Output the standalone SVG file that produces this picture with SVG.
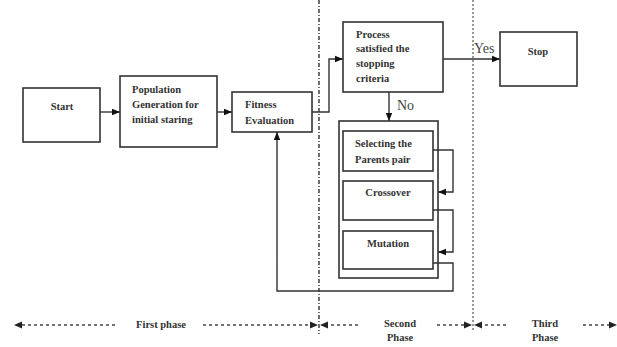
<svg xmlns="http://www.w3.org/2000/svg" width="617" height="347" viewBox="0 0 617 347">
<defs>
<marker id="ah" viewBox="0 0 10 10" refX="10" refY="5" markerWidth="8" markerHeight="8" markerUnits="userSpaceOnUse" orient="auto">
<path d="M0,1 L10,5 L0,9 z" fill="#111"/>
</marker>
<style>
.box{fill:#fff;stroke:#333;stroke-width:1.6}
.t{font-family:"Liberation Serif","Times New Roman",serif;font-size:10.5px;font-weight:bold;fill:#333}
.lbl{font-family:"Liberation Serif","Times New Roman",serif;font-size:14px;fill:#444}
.c{fill:none;stroke:#333;stroke-width:1.4}
.ph{fill:none;stroke:#444;stroke-width:1.3;stroke-dasharray:3,3}
</style>
</defs>
<rect width="617" height="347" fill="#fff"/>
<g id="dividers">
<line x1="319" y1="0" x2="319" y2="334" stroke="#222" stroke-width="1.3" stroke-dasharray="4,2,1,2"/>
<line x1="473" y1="0" x2="473" y2="332" stroke="#999" stroke-width="2" stroke-dasharray="2,2"/>
</g>
<g id="start"><rect class="box" x="23" y="88" width="77" height="54"/><text class="t" x="62" y="110" text-anchor="middle">Start</text></g>
<g id="population"><rect class="box" x="120" y="76" width="97" height="71"/>
<text class="t" x="132" y="93">Population</text><text class="t" x="132" y="108">Generation for</text><text class="t" x="132" y="123">initial staring</text></g>
<g id="fitness"><rect class="box" x="232" y="92" width="80" height="40"/>
<text class="t" x="245" y="108">Fitness</text><text class="t" x="245" y="124">Evaluation</text></g>
<g id="process"><rect class="box" x="343" y="22" width="100" height="70"/>
<text class="t" x="356" y="38">Process</text><text class="t" x="356" y="52">satisfied the</text><text class="t" x="356" y="67">stopping</text><text class="t" x="356" y="82">criteria</text></g>
<g id="stop"><rect class="box" x="500" y="32" width="77" height="54"/><text class="t" x="538" y="55" text-anchor="middle">Stop</text></g>
<g id="group"><rect class="box" x="339" y="121" width="99" height="157"/></g>
<g id="selecting"><rect class="box" x="343" y="131" width="90" height="40"/>
<text class="t" x="355" y="147">Selecting the</text><text class="t" x="355" y="163">Parents pair</text></g>
<g id="crossover"><rect class="box" x="343" y="181" width="90" height="39"/><text class="t" x="388" y="196" text-anchor="middle">Crossover</text></g>
<g id="mutation"><rect class="box" x="343" y="231" width="90" height="38"/><text class="t" x="388" y="247" text-anchor="middle">Mutation</text></g>
<g id="connectors">
<line class="c" x1="100" y1="112" x2="120" y2="112" marker-end="url(#ah)"/>
<line class="c" x1="217" y1="112" x2="232" y2="112" marker-end="url(#ah)"/>
<polyline class="c" points="312,112 329,112 329,59 343,59" marker-end="url(#ah)"/>
<line class="c" x1="443" y1="59" x2="500" y2="59" marker-end="url(#ah)"/>
<line class="c" x1="389" y1="92" x2="389" y2="121" marker-end="url(#ah)"/>
<polyline class="c" points="433,150 453,150 453,192 438,192" marker-end="url(#ah)"/>
<polyline class="c" points="433,210 453,210 453,252 438,252" marker-end="url(#ah)"/>
<polyline class="c" points="433,263 453,263 453,291 277,291 277,132" marker-end="url(#ah)"/>
<text class="lbl" x="474" y="53">Yes</text>
<text class="lbl" x="397" y="110">No</text>
</g>
<g id="phases">
<line class="ph" x1="22" y1="325" x2="118" y2="325"/>
<path d="M14,325 L22,321.5 L22,328.5 z" fill="#222"/>
<text class="t" x="161" y="328" text-anchor="middle">First phase</text>
<line class="ph" x1="203" y1="325" x2="311" y2="325"/>
<path d="M318,325 L310,321.5 L310,328.5 z" fill="#222"/>
<path d="M320,325 L328,321.5 L328,328.5 z" fill="#222"/>
<line class="ph" x1="331" y1="325" x2="360" y2="325"/>
<text class="t" x="400" y="327" text-anchor="middle">Second</text>
<text class="t" x="400" y="341" text-anchor="middle">Phase</text>
<line class="ph" x1="437" y1="325" x2="465" y2="325"/>
<path d="M472,325 L464,321.5 L464,328.5 z" fill="#222"/>
<path d="M474,325 L482,321.5 L482,328.5 z" fill="#222"/>
<line class="ph" x1="485" y1="325" x2="508" y2="325"/>
<text class="t" x="545" y="327" text-anchor="middle">Third</text>
<text class="t" x="545" y="341" text-anchor="middle">Phase</text>
<line class="ph" x1="583" y1="325" x2="609" y2="325"/>
<path d="M617,325 L609,321.5 L609,328.5 z" fill="#222"/>
</g>
</svg>
